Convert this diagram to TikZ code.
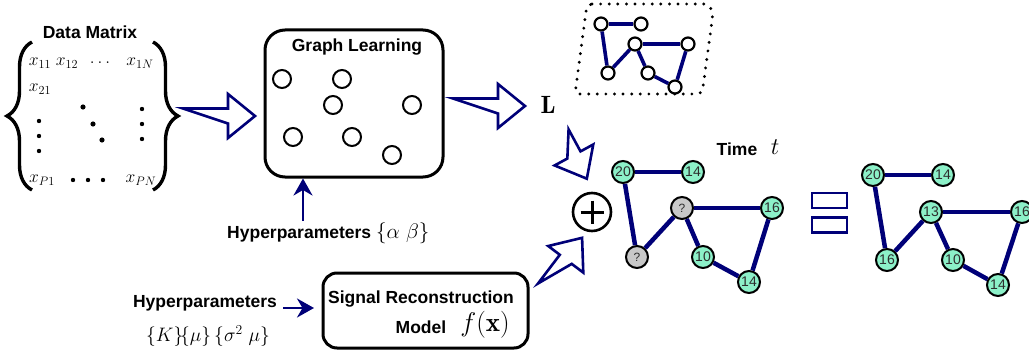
\RequirePackage{fix-cm}
\documentclass[tikz,border=0pt]{standalone}
\usepackage{fontspec}
\setsansfont{Liberation Sans}
\usetikzlibrary{decorations.pathreplacing,arrows.meta}
\definecolor{navyb}{RGB}{0,0,120}
\definecolor{aqua}{RGB}{140,240,200}
\definecolor{qgray}{RGB}{200,200,200}
\definecolor{lbl}{RGB}{45,45,45}
\tikzset{
  lab/.style={font=\fontsize{17.5}{21}\selectfont\sffamily\bfseries, inner sep=0},
  mat/.style={font=\fontsize{17.5}{21}\selectfont, inner sep=0},
  mth/.style={inner sep=0},
  glc/.style={circle, draw, line width=2, minimum size=18, inner sep=0},
  sgc/.style={circle, draw, fill=white, line width=2.2, minimum size=13, inner sep=0},
  vn/.style={circle, draw, fill=aqua, line width=2, minimum size=22, inner sep=0,
    font=\fontsize{14}{14}\selectfont\sffamily, text=lbl},
  qn/.style={vn, fill=qgray, font=\fontsize{12}{12}\selectfont\sffamily},
  sedge/.style={navyb, line width=3.6},
  gedge/.style={navyb, line width=4.5},
  hollow/.style={draw=navyb, line width=2.6, line join=miter, fill=white},
  rbox/.style={draw, line width=3},
  thin arrow/.style={navyb, line width=2.6, -{Stealth[length=17pt, width=19pt]}},
  pics/harrow/.style={code={
    \draw[hollow] (0,-7.5) -- ({#1-27},-7.5) -- ({#1-27},-22) -- (#1,0)
      -- ({#1-27},22) -- ({#1-27},7.5) -- cycle;}},
  brc/.style={decorate, decoration={brace, amplitude=25pt, aspect=0.5}, line width=3.4},
}
\begin{document}
\begin{tikzpicture}[x=1pt,y=-1pt]
\useasboundingbox (0,0) rectangle (1029,353);

% ---------- Data matrix ----------
\node[lab] (dmt) at (90,32) {Data Matrix};
\draw[brc] (32,190) -- (32,42);
\draw[brc] (153,42) -- (153,190);
\node[mat] (m11) at (40,63) {$x_{11}$};
\node[mat] (m12) at (67,63) {$x_{12}$};
\node[mat] (m1d) at (100,63) {$\dots$};
\node[mat] (m1N) at (140,63) {$x_{1N}$};
\node[mat] (m21) at (40,89) {$x_{21}$};
\node[mat] (mP1) at (42,180) {$x_{P1}$};
\node[mat] (mPN) at (141,180) {$x_{PN}$};
\foreach \p in {(83,107),(93,124),(102,140)} \fill \p circle (2.6);
\foreach \p in {(39,121),(39,136),(39,151),(142,109),(142,124),(142,139),(73,180),(88,180),(103,180)} \fill \p circle (2.2);

% ---------- hollow arrows ----------
\pic at (183,116) {harrow=72};
\pic at (453,106) {harrow=72};
\pic[rotate=-61.5] at (562,133) {harrow=52};
\pic[rotate=52.8] at (544,288) {harrow=63};

% ---------- Graph learning ----------
\node[rbox, rounded corners=20, minimum width=178, minimum height=147] (gl) at (354,103.5) {};
\node[lab] (glt) at (357,47) {Graph Learning};
\node[glc] (g1) at (282,79) {};
\node[glc] (g2) at (342,79) {};
\node[glc] (g3) at (333,105) {};
\node[glc] (g4) at (412,105) {};
\node[glc] (g5) at (293,137) {};
\node[glc] (g6) at (352,137) {};
\node[glc] (g7) at (392,155) {};

\node[lab, anchor=west] (hp1) at (227,233) {Hyperparameters \normalfont\fontsize{21}{24}\selectfont$\{\alpha\ \beta\}$};
\coordinate (hpA) at (303,221);
\draw[thin arrow] (hpA) -- (hpA |- gl.south);

% ---------- Signal reconstruction ----------
\node[rbox, rounded corners=14, minimum width=205, minimum height=75] (sr) at (425.5,310.5) {};
\node[lab] (srt) at (421,299) {Signal Reconstruction};
\node[lab] (srm) at (421,327) {Model};
\node[mth, font=\fontsize{27}{30}\selectfont] (srf) at (485,325) {$f(\mathbf{x})$};
\node[lab] (hp2) at (205,303) {Hyperparameters};
\node[mth, font=\fontsize{19.5}{22}\selectfont] (hp2m) at (208,336) {$\{K\}\!\{\mu\}\,\{\sigma^2\ \mu\}$};
\coordinate (hpB) at (283,308);
\coordinate (hpBe) at (314,308);
\draw[thin arrow] (hpB) -- (hpBe);

% ---------- L and small graph ----------
\node[mth, font=\fontsize{25}{28}\selectfont] (L) at (548,105) {$\mathbf{L}$};
\draw[line width=3.2, line cap=round, dash pattern=on 0pt off 8.6pt, rounded corners=5]
  (587,4) -- (709,4) -- (713,14) -- (702,94) -- (575,94) -- cycle;
\node[sgc] (s1) at (601,24) {};
\node[sgc] (s2) at (641,24) {};
\node[sgc] (s3) at (635,44) {};
\node[sgc] (s4) at (688,44) {};
\node[sgc] (s5) at (608,73) {};
\node[sgc] (s6) at (648,73) {};
\node[sgc] (s7) at (675,87) {};
\draw[sedge] (s1) -- (s2);
\draw[sedge] (s1) -- (s5);
\draw[sedge] (s5) -- (s3);
\draw[sedge] (s3) -- (s4);
\draw[sedge] (s3) -- (s6);
\draw[sedge] (s6) -- (s7);
\draw[sedge] (s7) -- (s4);

% ---------- plus ----------
\node[circle, draw, line width=2.6, minimum size=38, inner sep=0] (plus) at (592,212) {};
\draw[line width=3] (plus.center) ++(-11.5,0) -- ++(23,0);
\draw[line width=3] (plus.center) ++(0,-11.5) -- ++(0,23);

% ---------- Time t graph ----------
\node[lab] (tm) at (737,149) {Time};
\node[mth, font=\fontsize{24}{26}\selectfont] (tt) at (775,147) {$t$};
\node[vn] (a20) at (623,172) {20};
\node[vn] (a14) at (693,172) {14};
\node[qn] (aq1) at (682,208) {?};
\node[vn] (a16) at (772,208) {16};
\node[qn] (aq2) at (637,257) {?};
\node[vn] (a10) at (703,257) {10};
\node[vn] (a14b) at (749,282) {14};
\draw[gedge] (a20) -- (a14);
\draw[gedge] (a20) -- (aq2);
\draw[gedge] (aq2) -- (aq1);
\draw[gedge] (aq1) -- (a16);
\draw[gedge] (aq1) -- (a10);
\draw[gedge] (a10) -- (a14b);
\draw[gedge] (a14b) -- (a16);

% ---------- equals ----------
\node[draw=navyb, line width=2.6, minimum width=35, minimum height=15, inner sep=0] (eq1) at (829.5,200.5) {};
\node[draw=navyb, line width=2.6, minimum width=35, minimum height=15, inner sep=0] (eq2) at (829.5,225) {};

% ---------- result graph ----------
\node[vn] (b20) at (873,175) {20};
\node[vn] (b14) at (943,175) {14};
\node[vn] (b13) at (931,212) {13};
\node[vn] (b16r) at (1022,212) {16};
\node[vn] (b16) at (887,260) {16};
\node[vn] (b10) at (953,260) {10};
\node[vn] (b14b) at (998,285) {14};
\draw[gedge] (b20) -- (b14);
\draw[gedge] (b20) -- (b16);
\draw[gedge] (b16) -- (b13);
\draw[gedge] (b13) -- (b16r);
\draw[gedge] (b13) -- (b10);
\draw[gedge] (b10) -- (b14b);
\draw[gedge] (b14b) -- (b16r);
\end{tikzpicture}
\end{document}
